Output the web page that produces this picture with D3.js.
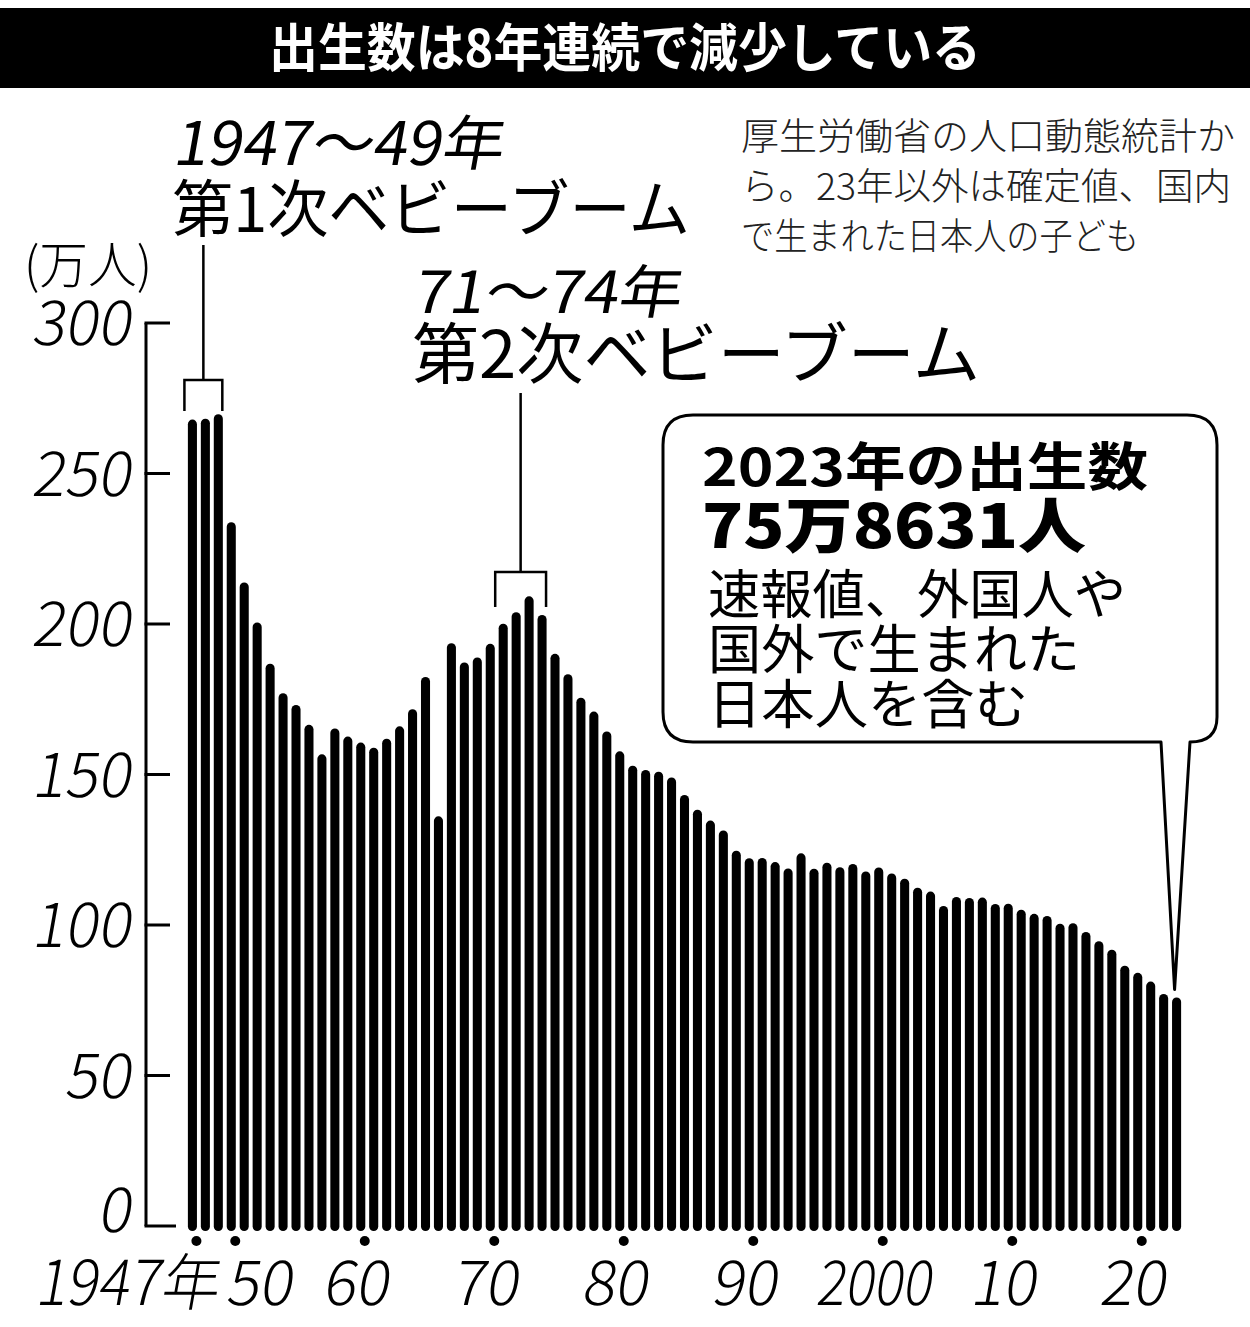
<!DOCTYPE html>
<html><head><meta charset="utf-8">
<script src="https://cdn.jsdelivr.net/npm/d3@7"></script>
<style>
html,body{margin:0;padding:0;background:#fff;}
svg{display:block;}
</style></head>
<body>
<svg id="chart" width="1250" height="1327"></svg>
<script>
// ---------- data ----------
const years = d3.range(1947, 2024);
const births = [
  267.9,268.2,269.7,233.8,213.8,200.5,186.8,177.0,173.1,166.5,
  156.7,165.3,162.6,160.6,158.9,161.9,166.0,171.7,182.4,136.1,
  193.6,187.2,188.9,193.4,200.1,203.9,209.2,203.0,190.1,183.3,
  175.5,170.9,164.3,157.7,152.9,151.5,150.9,149.0,143.2,138.3,
  134.7,131.4,124.7,122.2,122.3,120.9,118.8,123.8,118.7,120.7,
  119.2,120.3,117.8,119.1,117.1,115.4,112.4,111.1,106.3,109.3,
  109.0,109.1,107.0,107.1,105.1,103.7,103.0,100.4,100.6,97.7,
  94.6,91.8,86.5,84.1,81.2,77.1,75.9
];
const yTicks = [0,50,100,150,200,250,300];
const yTickLabels = ["0","50","100","150","200","250","300"];
const xTickYears = [1947,1950,1960,1970,1980,1990,2000,2010,2020];
const xTickLabels = ["1947年","50","60","70","80","90","2000","10","20"];
const booms = [
  {from:1947, to:1949, line1:"1947～49年", line2:"第1次ベビーブーム"},
  {from:1971, to:1974, line1:"71～74年", line2:"第2次ベビーブーム"}
];
const titleText = "出生数は8年連続で減少している";
const sourceLines = ["厚生労働省の人口動態統計か","ら。23年以外は確定値、国内","で生まれた日本人の子ども"];
const unitLabel = "(万人)";
const bubbleLines = ["2023年の出生数","75万8631人","速報値、外国人や","国外で生まれた","日本人を含む"];

// ---------- layout ----------
const svg = d3.select("#chart");
const FONT = "'Noto Sans CJK JP','Noto Sans',sans-serif";

const x = d3.scaleBand().domain(years).range([184, 1185]).padding(0.3);
const xc = yr => x(yr) + x.bandwidth()/2;
const y = d3.scaleLinear().domain([0, 300]).range([1226, 323]);

function textW(s){ let w=0; for(const ch of s){ w += /[\x00-\x7f]/.test(ch) ? 31 : 55; } return w; }

function label(g, str, px, py, o){
  const grp = g.append("g").attr("transform", `translate(${px},${py})` + (o.skew ? ` skewX(${o.skew})` : ""));
  const t = grp.append("text")
    .attr("x", 0).attr("y", 0)
    .attr("font-family", FONT)
    .attr("font-size", o.size)
    .attr("font-weight", o.weight || 400)
    .attr("fill", o.fill || "#000")
    .attr("text-anchor", o.anchor || "start")
    .text(str);
  if (o.width) t.attr("textLength", o.width).attr("lengthAdjust", "spacingAndGlyphs");
  return t;
}

// title band
svg.append("rect").attr("x", 0).attr("y", 8).attr("width", 1250).attr("height", 80).attr("fill", "#000");
label(svg, titleText, 625, 67, {size:52, weight:700, fill:"#fff", anchor:"middle", width:712});

// source note (one text block)
const src = svg.append("text").attr("font-family", FONT).attr("font-size", 37).attr("font-weight", 300).attr("fill", "#222");
sourceLines.forEach((s, i) => {
  src.append("tspan").attr("x", 741).attr("y", 150 + i*50)
    .attr("textLength", i===1 ? 490 : (i===0 ? 494 : 398)).attr("lengthAdjust", "spacingAndGlyphs")
    .text(s);
});

// unit label
label(svg, unitLabel, 24, 283, {size:50, weight:300, width:128});

// y axis
const axis = svg.append("g").attr("stroke", "#000").attr("stroke-width", 3).attr("fill", "none");
axis.append("line").attr("x1", 146).attr("x2", 146).attr("y1", y(300)).attr("y2", y(0));
yTicks.forEach(v => {
  axis.append("line").attr("x1", 144.5).attr("x2", v === 0 ? 176 : 170).attr("y1", y(v)).attr("y2", y(v));
});
yTickLabels.forEach((s, i) => {
  label(svg, s, 130, y(yTicks[i]) + (yTicks[i]===0 ? 6 : 22), {size:62, weight:300, anchor:"end", skew:-10, width: s.length*33});
});

// bars
svg.append("g").selectAll("rect").data(years).join("rect")
  .attr("x", d => x(d))
  .attr("width", x.bandwidth())
  .attr("y", (d,i) => y(births[i]))
  .attr("height", (d,i) => y(0) + 5 - y(births[i]))
  .attr("rx", x.bandwidth()/2)
  .attr("fill", "#000");

// decade dots & labels
xTickYears.forEach((yr, i) => {
  svg.append("circle").attr("cx", xc(yr) + 4).attr("cy", 1241).attr("r", 5).attr("fill", "#000");
  const s = xTickLabels[i];
  let anchor = "middle", px = xc(yr) - 6;
  if (i === 0) { anchor = "end"; px = xc(yr) + 25; }
  if (i === 1) { anchor = "start"; px = xc(yr) - 6; }
  label(svg, s, px, 1305, {size:62, weight:300, anchor, skew:-10, width: textW(s) + (s.length===4 ? -9 : 4)});
});

// baby boom annotations
const ann = svg.append("g").attr("stroke", "#000").attr("stroke-width", 2.5).attr("fill", "none");
const boomLayout = [
  {top:245, by:380, legs:411, t1y:165, t2y:232, size1:60, size2:62, w1:330, w2:518, tx:172},
  {top:393, by:572, legs:607, t1y:313, t2y:378, size1:58, size2:66, w1:268, w2:568, tx:412}
];
booms.forEach((b, i) => {
  const L = boomLayout[i];
  const x0 = xc(b.from) - 8, x1 = xc(b.to) + 4, xm = (x0 + x1)/2;
  ann.append("path").attr("d", `M${x0},${L.legs} V${L.by} H${x1} V${L.legs} M${xm},${L.by} V${L.top}`);
  label(svg, b.line1, L.tx, L.t1y, {size:L.size1, weight:400, skew:-10, width:L.w1});
  label(svg, b.line2, L.tx, L.t2y, {size:L.size2, weight:400, width:L.w2});
});

// speech bubble
const bx0 = 663, by0 = 415, bx1 = 1217, by1 = 742, r = 30;
const tip = [xc(2023) - 2, y(births[births.length-1]) - 8];
svg.append("path")
  .attr("d", `M1161,${by1} L${tip[0]},${tip[1]} L1190,${by1} Q${bx1},${by1} ${bx1},${by1-25} V${by0+r} Q${bx1},${by0} ${bx1-r},${by0} H${bx0+r} Q${bx0},${by0} ${bx0},${by0+r} V${by1-r} Q${bx0},${by1} ${bx0+r},${by1} Z`)
  .attr("fill", "#fff").attr("stroke", "#000").attr("stroke-width", 3).attr("stroke-linejoin", "round");

// bubble text as one multi-line block
const bubbleStyle = [
  {x:702, y:486, size:52, weight:700, width:446},
  {x:702, y:548, size:60, weight:900, width:384},
  {x:708, y:614, size:53, weight:400, width:418},
  {x:708, y:669, size:53, weight:400, width:372},
  {x:708, y:724, size:53, weight:400, width:320}
];
const bt = svg.append("text").attr("font-family", FONT).attr("fill", "#000");
bubbleLines.forEach((s, i) => {
  const st = bubbleStyle[i];
  bt.append("tspan").attr("x", st.x).attr("y", st.y)
    .attr("font-size", st.size).attr("font-weight", st.weight)
    .attr("textLength", st.width).attr("lengthAdjust", "spacingAndGlyphs")
    .text(s);
});
</script>
</body></html>
